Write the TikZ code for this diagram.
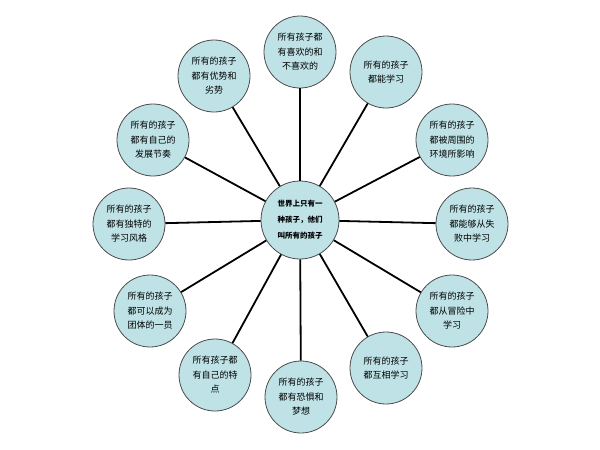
\documentclass[tikz,border=0pt]{standalone}
\usepackage{fontspec}
\newfontfamily\cjk{Noto Sans CJK SC}
\usetikzlibrary{positioning}
\definecolor{bubble}{RGB}{190,226,230}

\begin{document}
\begin{tikzpicture}[
  x=1pt, y=-1pt,
  font=\cjk\fontsize{9}{14.5}\selectfont,
  idea/.style={circle, draw=black!70, line width=0.8pt, fill=bubble,
               minimum size=72pt, inner sep=0pt, align=center, text=black},
  hub/.style={idea, minimum size=78pt,
              font=\cjk\bfseries\fontsize{7.5}{16}\selectfont},
  spoke/.style={draw=black, line width=1.8pt},
]
\useasboundingbox (0,0) rectangle (600,450);

% The hub.
\node[hub] (core) at (300,220) {世界上只有一\\种孩子，他们\\叫所有的孩子};

% Twelve ideas round it, clockwise from the top.
\node[idea] (likes)   at (300,52)  {所有孩子都\\有喜欢的和\\不喜欢的};
\node[idea] (learn)   at (386,72)  {所有的孩子\\都能学习};
\node[idea] (around)  at (452,140) {所有的孩子\\都被周围的\\环境所影响};
\node[idea] (fail)    at (472,224) {所有的孩子\\都能够从失\\败中学习};
\node[idea] (risk)    at (452,311) {所有的孩子\\都从冒险中\\学习};
\node[idea] (mutual)  at (386,368) {所有的孩子\\都互相学习};
\node[idea] (dreams)  at (301,397) {所有的孩子\\都有恐惧和\\梦想};
\node[idea] (traits)  at (215,375) {所有孩子都\\有自己的特\\点};
\node[idea] (team)    at (150,311) {所有的孩子\\都可以成为\\团体的一员};
\node[idea] (style)   at (129,224) {所有的孩子\\都有独特的\\学习风格};
\node[idea] (pace)    at (153,140) {所有的孩子\\都有自己的\\发展节奏};
\node[idea] (strong)  at (214,76)  {所有的孩子\\都有优势和\\劣势};

\foreach \n in {likes,learn,around,fail,risk,mutual,dreams,traits,team,style,pace,strong}
  \draw[spoke] (core) -- (\n);

\end{tikzpicture}
\end{document}
